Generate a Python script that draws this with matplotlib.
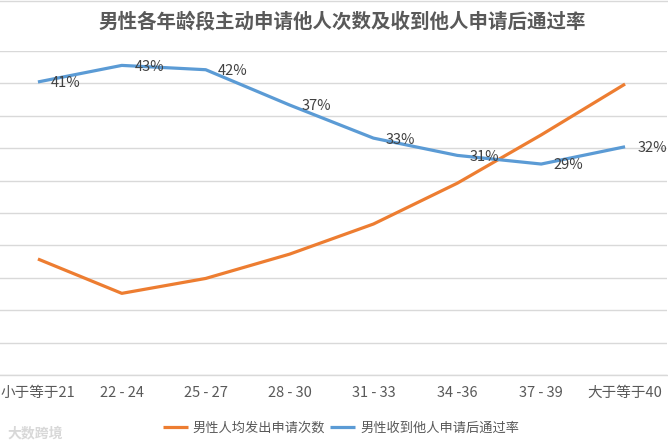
import matplotlib
matplotlib.use("Agg")
import matplotlib.pyplot as plt
from matplotlib.lines import Line2D

plt.rcParams['font.family'] = ['Noto Sans CJK SC', 'DejaVu Sans']

categories = ["小于等于21", "22 - 24", "25 - 27", "28 - 30", "31 - 33", "34 -36", "37 - 39", "大于等于40"]
avg_sent = [3.58, 2.52, 2.98, 3.73, 4.66, 5.92, 7.41, 8.98]
pass_rate = [0.407, 0.430, 0.424, 0.375, 0.329, 0.305, 0.293, 0.317]
pass_labels = ["41%", "43%", "42%", "37%", "33%", "31%", "29%", "32%"]

title = "男性各年龄段主动申请他人次数及收到他人申请后通过率"
name_sent = "男性人均发出申请次数"
name_rate = "男性收到他人申请后通过率"

orange = "#ED7D31"
blue = "#5B9BD5"
grid_c = "#D9D9D9"
txt_c = "#595959"

fig = plt.figure(figsize=(6.68, 4.48), dpi=100)
W, H = 668, 448
left_px, right_px = -4, 667
top_px, bot_px = 51, 375
ax = fig.add_axes([left_px / W, 1 - bot_px / H, (right_px - left_px) / W, (bot_px - top_px) / H])
ax2 = ax.twinx()

x = list(range(len(categories)))
l1, = ax.plot(x, avg_sent, color=orange, lw=2.3, solid_capstyle='butt', zorder=3)
l2, = ax2.plot(x, pass_rate, color=blue, lw=2.3, solid_capstyle='butt', zorder=3)

ax.set_xlim(-0.5, len(categories) - 0.5)
ax.set_ylim(0, 10)
ax2.set_ylim(0, 0.45)
ax.set_yticks(range(0, 11))
ax.yaxis.grid(True, color=grid_c, lw=1.0)
ax.set_axisbelow(True)
ax.tick_params(axis='y', left=False, labelleft=False)
ax2.tick_params(axis='y', right=False, labelright=False)
for a in (ax, ax2):
    for s in a.spines.values():
        s.set_visible(False)
ax.spines['bottom'].set_visible(True)
ax.spines['bottom'].set_color(grid_c)
ax.spines['bottom'].set_linewidth(1.0)

ax.set_xticks(x)
ax.set_xticklabels(categories, fontsize=10.5, color=txt_c)
ax.tick_params(axis='x', length=0, pad=8)

for xi, v, lab in zip(x, pass_rate, pass_labels):
    ax2.annotate(lab, (xi, v), xytext=(9, -1), textcoords='offset points',
                 ha='left', va='center', fontsize=10.5, color="#404040", zorder=4)

fig.text(342 / W, 1 - 22 / H, title, ha='center', va='center', fontsize=14,
         fontweight='bold', color=txt_c)

fig.add_artist(Line2D([0, 1], [1 - 1.5 / H, 1 - 1.5 / H], color=grid_c, lw=1.0))

fig.legend([l1, l2], [name_sent, name_rate], loc='center', bbox_to_anchor=(341 / W, 1 - 428 / H),
           ncol=2, frameon=False, fontsize=9.5, handlelength=1.9, handletextpad=0.35,
           columnspacing=0.4, labelcolor=txt_c)

fig.text(8 / W, 1 - 433 / H, "大数跨境", ha='left', va='center', fontsize=10,
         color="#D8D8D8", fontweight='bold')

fig.savefig("out.png", dpi=100)
